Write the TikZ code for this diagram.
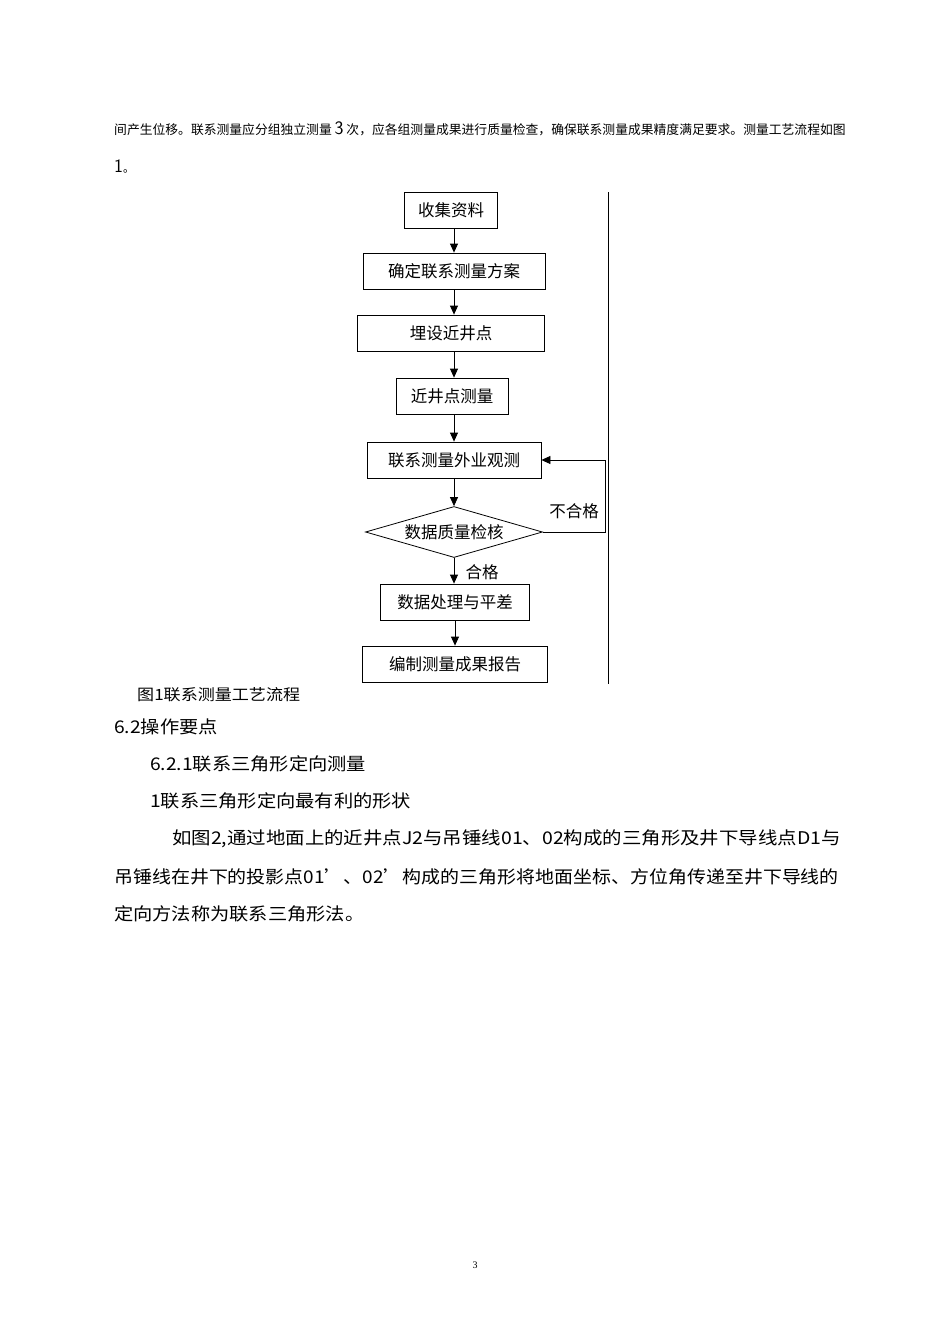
\documentclass[tikz,border=0pt]{standalone}
\usepackage{fontspec}
\setmainfont{Liberation Serif}
\newfontfamily\cjk{Noto Sans CJK SC}
\usetikzlibrary{shapes.geometric,arrows.meta}
\begin{document}
\begin{tikzpicture}[x=1pt,y=-1pt,
  bx/.style={draw,thick,minimum height=36pt,inner sep=0pt,font=\cjk\fontsize{16.5}{16.5}\selectfont},
  ar/.style={-{Triangle[length=9pt,width=8pt]},thick},
  tx/.style={anchor=west,inner sep=0pt,xscale=1.1,font=\cjk\fontsize{17.5}{17.5}\selectfont}]
\useasboundingbox[fill=white] (0,0) rectangle (950,1344);
\node[anchor=west,inner sep=0pt,font=\cjk\fontsize{12.8}{13}\selectfont] (t1) at (114,129) {间产生位移。联系测量应分组独立测量 {\sffamily\fontsize{19}{19}\selectfont 3} 次，应各组测量成果进行质量检查，确保联系测量成果精度满足要求。测量工艺流程如图};
\node[anchor=west,inner sep=0pt,font=\cjk\fontsize{11.5}{12}\selectfont] (t2) at (114,166) {{\sffamily\fontsize{19}{19}\selectfont 1}。};
\node[bx,minimum width=93pt] (b1) at (451,210) {收集资料};
\node[bx,minimum width=182pt] (b2) at (454,271) {确定联系测量方案};
\node[bx,minimum width=187pt] (b3) at (451,333) {埋设近井点};
\node[bx,minimum width=112pt] (b4) at (452,396) {近井点测量};
\node[bx,minimum width=174pt] (b5) at (454,460) {联系测量外业观测};
\node[draw,thick,diamond,aspect=3.5,minimum width=177pt,minimum height=51pt,inner sep=0pt,font=\cjk\fontsize{16.5}{16.5}\selectfont] (d) at (454,532) {数据质量检核};
\node[bx,minimum width=149pt] (b6) at (455,602) {数据处理与平差};
\node[bx,minimum width=185pt] (b7) at (455,664) {编制测量成果报告};
\draw[ar] (b1.south -| 454,0) -- (b2.north -| 454,0);
\draw[ar] (b2.south -| 454,0) -- (b3.north -| 454,0);
\draw[ar] (b3.south -| 454,0) -- (b4.north -| 454,0);
\draw[ar] (b4.south -| 454,0) -- (b5.north -| 454,0);
\draw[ar] (b5.south) -- (d.north);
\draw[ar] (d.south) -- (b6.north -| d.south);
\draw[ar] (b6.south) -- (b7.north);
\coordinate (c1) at (605,532);
\draw[ar] (d.east) -- (c1) |- (b5.east);
\node[font=\cjk\fontsize{16.5}{16.5}\selectfont] (l1) at (574,511) {不合格};
\node[font=\cjk\fontsize{16.5}{16.5}\selectfont] (l2) at (482,572) {合格};
\coordinate (v1) at (608,192); \coordinate (v2) at (608,684);
\draw[thin] (v1) -- (v2);
\node[tx,xscale=1.0,font=\cjk\fontsize{15.5}{15.5}\selectfont] (cap) at (137,695) {图1联系测量工艺流程};
\node[tx] (h1) at (114,727) {6.2操作要点};
\node[tx] (h2) at (150,764) {6.2.1联系三角形定向测量};
\node[tx] (h3) at (150,801) {1联系三角形定向最有利的形状};
\node[tx,xscale=1.01] (p1) at (172,839) {如图2,通过地面上的近井点J2与吊锤线01、02构成的三角形及井下导线点D1与};
\node[tx,xscale=0.985] (p2) at (114,877) {吊锤线在井下的投影点01’、02’构成的三角形将地面坐标、方位角传递至井下导线的};
\node[tx] (p3) at (114,914) {定向方法称为联系三角形法。};
\node[font=\fontsize{10}{10}\selectfont] (pg) at (475,1265) {3};
\end{tikzpicture}
\end{document}
